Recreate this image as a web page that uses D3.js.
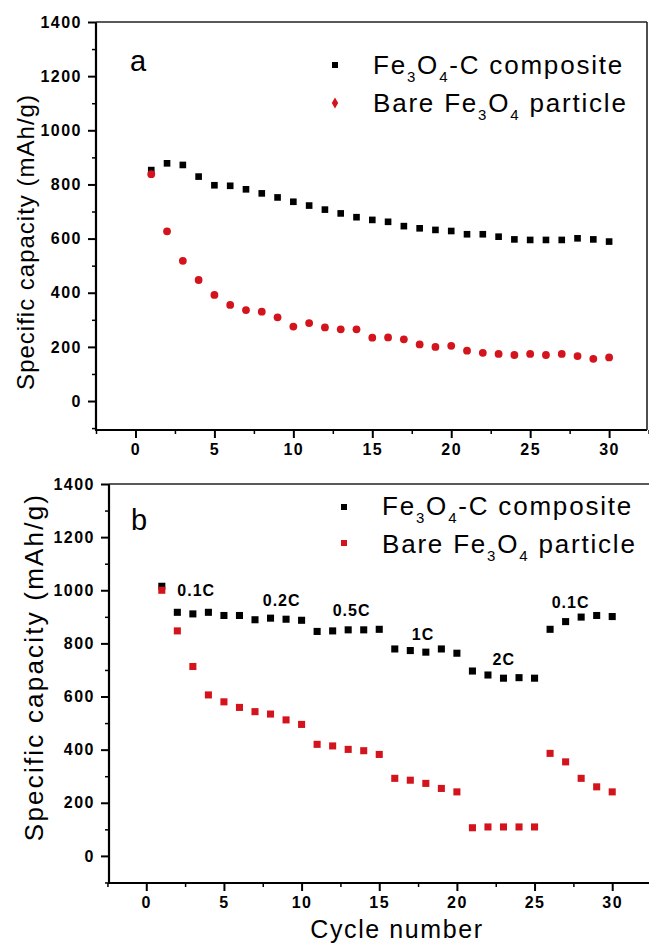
<!DOCTYPE html>
<html>
<head>
<meta charset="utf-8">
<script src="https://cdn.jsdelivr.net/npm/d3@7"></script>
<style>
  body { margin: 0; background: #fff; }
  svg { display: block; font-family: "Liberation Sans", Arial, sans-serif; }
  .domain { display: none; }
</style>
</head>
<body>
<svg id="chart" width="649" height="943"></svg>
<script>
// cycle numbers shared by both panels
var cycles = [1,2,3,4,5,6,7,8,9,10,11,12,13,14,15,16,17,18,19,20,21,22,23,24,25,26,27,28,29,30];

// panel a: cycling at constant rate
var compositeA = [853,878,872,829,797,795,782,767,752,736,722,707,693,679,669,662,646,638,632,628,616,616,607,597,595,595,595,601,597,589];
var bareA = [838,627,518,447,392,355,336,330,309,275,288,272,265,265,234,235,228,209,200,204,186,178,174,170,174,170,174,166,156,161];

// panel b: rate capability
var compositeB = [1015,917,911,917,905,905,889,895,891,887,845,847,851,851,853,779,773,767,779,763,696,681,669,671,669,853,882,899,905,901];
var bareB = [1000,847,713,606,580,559,543,534,512,495,420,414,401,396,382,292,285,273,254,241,106,109,109,109,109,386,354,292,260,241];

var rateLabels = ['0.1C', '0.2C', '0.5C', '1C', '2C', '0.1C'];
var rateAt = [[2.0, 979], [7.5, 941], [12.0, 904], [17.1, 813], [22.3, 720], [26.1, 934]];

var xTicks = [0, 5, 10, 15, 20, 25, 30];
var xMinor = [-2.5, 2.5, 7.5, 12.5, 17.5, 22.5, 27.5, 32.5];
var yTicks = [0, 200, 400, 600, 800, 1000, 1200, 1400];
var yMinor = [-100, 100, 300, 500, 700, 900, 1100, 1300];

var RED = '#d4141c';
var svg = d3.select('#chart');

function styleTicks(a, w) {
  a.selectAll('line').attr('stroke-width', w);
  a.selectAll('text')
    .style('font-family', '"Liberation Sans", Arial, sans-serif')
    .style('font-weight', 'bold')
    .style('font-size', '16px')
    .style('letter-spacing', '1.5px')
    .attr('fill', '#000');
}

function legendText(g, x, y, bare) {
  var t = g.append('text')
    .attr('x', x).attr('y', y)
    .style('font-size', '26px')
    .style('letter-spacing', '1.8px')
    .attr('fill', '#000');
  var parts = bare ?
    [['Bare Fe', 0], ['3', 1], ['O', -1], ['4', 1], [' particle', -1]] :
    [['Fe', 0], ['3', 1], ['O', -1], ['4', 1], ['-C composite', -1]];
  parts.forEach(function(p){
    var s = t.append('tspan').text(p[0]);
    if (p[1] === 1) s.attr('dy', 8).style('font-size', '15px');
    if (p[1] === -1) s.attr('dy', -8);
  });
}

function drawPanel(opt) {
  var x = d3.scaleLinear().domain(opt.xd).range(opt.xr);
  var y = d3.scaleLinear().domain(opt.yd).range(opt.yr);
  var g = svg.append('g');
  var x0 = opt.xr[0], x1 = opt.xr[1], yb = opt.yr[0], yt = opt.yr[1];
  var fmt = d3.format('d');

  // axes with outward ticks
  g.append('g').attr('transform', 'translate(0,' + yb + ')')
    .call(d3.axisBottom(x).tickValues(xTicks).tickSize(8).tickPadding(6).tickFormat(fmt))
    .call(styleTicks, 2);
  g.append('g').attr('transform', 'translate(0,' + yb + ')')
    .call(d3.axisBottom(x).tickValues(xMinor).tickSize(4).tickFormat(''))
    .call(styleTicks, 1.5);
  g.append('g').attr('transform', 'translate(' + x0 + ',0)')
    .call(d3.axisLeft(y).tickValues(yTicks).tickSize(8).tickPadding(6).tickFormat(fmt))
    .call(styleTicks, 2);
  g.append('g').attr('transform', 'translate(' + x0 + ',0)')
    .call(d3.axisLeft(y).tickValues(yMinor).tickSize(4).tickFormat(''))
    .call(styleTicks, 1.5);

  // frame
  g.append('line').attr('x1', x0).attr('x2', x0).attr('y1', yt).attr('y2', yb)
    .attr('stroke', '#000').attr('stroke-width', 2.2);
  g.append('line').attr('x1', x0 - 1).attr('x2', x1).attr('y1', yb).attr('y2', yb)
    .attr('stroke', '#000').attr('stroke-width', 2.2);
  g.append('line').attr('x1', x0).attr('x2', x1).attr('y1', yt).attr('y2', yt)
    .attr('stroke', '#222').attr('stroke-width', 1.6);
  g.append('line').attr('x1', x1).attr('x2', x1).attr('y1', yt).attr('y2', yb)
    .attr('stroke', '#222').attr('stroke-width', 1.6);

  // y title
  g.append('text')
    .attr('transform', 'translate(' + opt.titleX + ',' + opt.titleY + ') rotate(-90)')
    .attr('text-anchor', 'middle')
    .style('font-size', opt.titleSize + 'px')
    .style('letter-spacing', opt.titleSpacing + 'px')
    .text('Specific capacity (mAh/g)');

  // panel letter
  g.append('text').attr('x', opt.letter[1]).attr('y', opt.letter[2])
    .style('font-size', '29px').text(opt.letter[0]);

  // black squares
  var sq = d3.symbol().type(d3.symbolSquare).size(opt.sqSize);
  g.selectAll('path.comp').data(opt.comp).join('path')
    .attr('class', 'comp')
    .attr('d', sq)
    .attr('transform', function(d, i){ return 'translate(' + x(cycles[i]) + ',' + y(d) + ')'; })
    .attr('fill', '#000');

  // red series
  if (opt.redShape === 'circle') {
    g.selectAll('circle.bare').data(opt.bare).join('circle')
      .attr('class', 'bare')
      .attr('cx', function(d, i){ return x(cycles[i]); })
      .attr('cy', function(d){ return y(d); })
      .attr('r', 3.9)
      .attr('fill', RED);
  } else {
    g.selectAll('path.bare').data(opt.bare).join('path')
      .attr('class', 'bare')
      .attr('d', sq)
      .attr('transform', function(d, i){ return 'translate(' + x(cycles[i]) + ',' + y(d) + ')'; })
      .attr('fill', RED);
  }

  // legend
  var L = opt.legend;
  g.append('path').attr('d', d3.symbol().type(d3.symbolSquare).size(36))
    .attr('transform', 'translate(' + L.mx + ',' + L.my1 + ')').attr('fill', '#000');
  g.append('path')
    .attr('d', d3.symbol().type(opt.redShape === 'circle' ? d3.symbolDiamond : d3.symbolSquare).size(36))
    .attr('transform', 'translate(' + L.mx + ',' + L.my2 + ')').attr('fill', RED);
  legendText(g, L.tx, L.ty1, false);
  legendText(g, L.tx, L.ty2, true);

  return { x: x, y: y, g: g };
}

drawPanel({
  xd: [-2.5, 32.4], xr: [96, 647],
  yd: [-107, 1400], yr: [430, 22],
  comp: compositeA, bare: bareA, redShape: 'circle', sqSize: 44,
  titleX: 34, titleY: 242, titleSize: 24, titleSpacing: 1,
  letter: ['a', 130, 71],
  legend: { mx: 335, my1: 65, my2: 103, tx: 373, ty1: 74, ty2: 112 }
});

var pb = drawPanel({
  xd: [-2.4, 32.8], xr: [109, 655.7],
  yd: [-102, 1400], yr: [883, 484],
  comp: compositeB, bare: bareB, redShape: 'square', sqSize: 50,
  titleX: 43, titleY: 667, titleSize: 26, titleSpacing: 2.2,
  letter: ['b', 131, 530],
  legend: { mx: 344, my1: 507, my2: 543, tx: 382, ty1: 515, ty2: 553 }
});

// rate labels in panel b
pb.g.selectAll('text.rate').data(rateLabels).join('text')
  .attr('class', 'rate')
  .attr('x', function(d, i){ return pb.x(rateAt[i][0]); })
  .attr('y', function(d, i){ return pb.y(rateAt[i][1]); })
  .style('font-size', '16px').style('font-weight', 'bold').style('letter-spacing', '1px')
  .text(function(d){ return d; });

// x title
svg.append('text').attr('x', 397).attr('y', 938).attr('text-anchor', 'middle')
  .style('font-size', '25px').style('letter-spacing', '1.6px')
  .text('Cycle number');
</script>
</body>
</html>
